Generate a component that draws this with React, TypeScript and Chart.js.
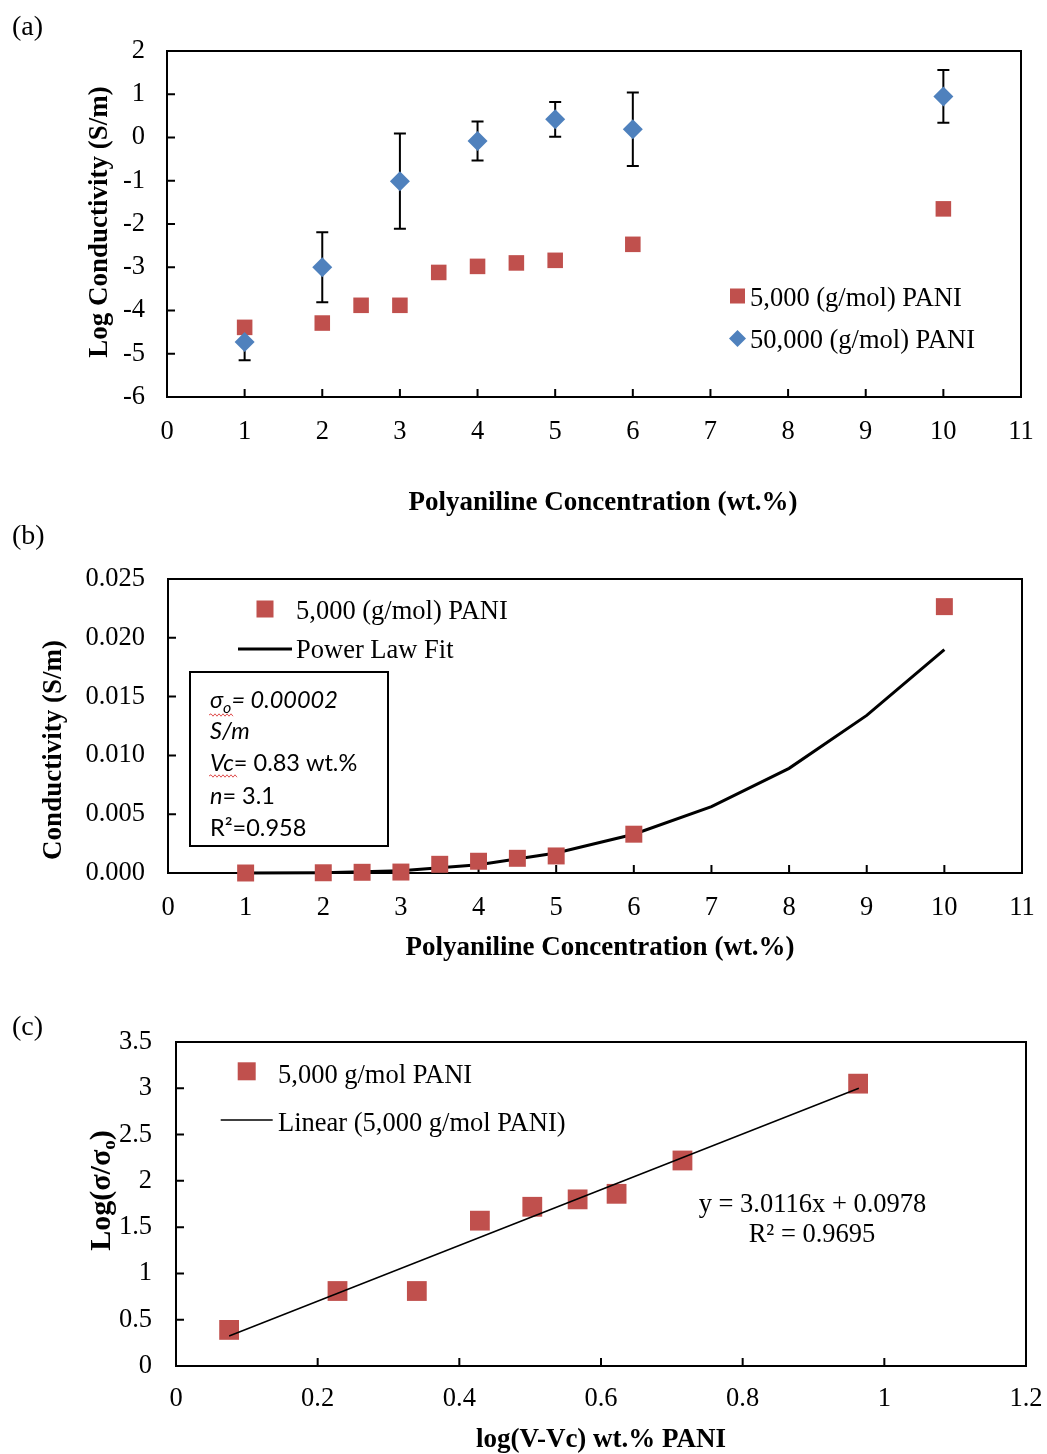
import React, { useEffect, useRef } from "react";
import { Chart, registerables } from "chart.js";
Chart.register(...registerables);

const SERIF = "'Liberation Serif', 'Times New Roman', Times, serif";
const SANS = "Lato, 'Liberation Sans', sans-serif";
const RED = "#C0504D";
const BLUE = "#4F81BD";

// ---------- Panel (a) data ----------
const aConc5k = [1, 2, 2.5, 3, 3.5, 4, 4.5, 5, 6, 10];
const aLog5k = [-4.39, -4.29, -3.88, -3.88, -3.12, -2.98, -2.9, -2.84, -2.47, -1.65];
const aConc50k = [1, 2, 3, 4, 5, 6, 10];
const aLog50k = [-4.73, -3.0, -1.01, -0.08, 0.42, 0.19, 0.95];
const aErr50k = [0.42, 0.81, 1.1, 0.45, 0.4, 0.85, 0.61];
const aLegend = ["5,000 (g/mol) PANI", "50,000 (g/mol) PANI"];
const aYTitle = "Log Conductivity (S/m)";
const concTitle = "Polyaniline Concentration (wt.%)";

// ---------- Panel (b) data ----------
const bConc = [1, 2, 2.5, 3, 3.5, 4, 4.5, 5, 6, 10];
const bCond = [0.0, 0.00002, 0.00006, 0.00008, 0.00074, 0.001, 0.00125, 0.00145, 0.0033, 0.02265];
const bFitConc = [1, 2, 3, 4, 5, 6, 7, 8, 9, 10];
const bFitCond = [0.0, 0.00003, 0.0002, 0.0007, 0.0017, 0.0033, 0.00565, 0.0089, 0.0134, 0.019];
const bLegend = ["5,000 (g/mol) PANI", "Power Law Fit"];
const bYTitle = "Conductivity (S/m)";

// ---------- Panel (c) data ----------
const cLogDV = [0.075, 0.228, 0.34, 0.429, 0.503, 0.567, 0.622, 0.715, 0.963];
const cLogRatio = [0.39, 0.81, 0.81, 1.57, 1.72, 1.8, 1.86, 2.22, 3.05];
const cFitX = [0.075, 0.964];
const cFitY = [0.324, 3.001];
const cLegend = ["5,000 g/mol PANI", "Linear (5,000 g/mol PANI)"];
const cEquation = ["y = 3.0116x + 0.0978", "R² = 0.9695"];
const cXTitle = "log(V-Vc) wt.% PANI";

const pts = (xs: number[], ys: number[]) => xs.map((x, i) => ({ x, y: ys[i] }));
const plainNum = (v: any) => String(parseFloat(Number(v).toFixed(3)));

function text(ctx: any, s: string, x: number, y: number, font: string, align: string = "left") {
  ctx.font = font;
  ctx.textAlign = align;
  ctx.textBaseline = "alphabetic";
  ctx.fillStyle = "#000";
  ctx.fillText(s, x, y);
}

type Run = { t: string; f: string; dy?: number };
function runs(ctx: any, list: Run[], x: number, y: number, center = false) {
  ctx.textBaseline = "alphabetic";
  ctx.textAlign = "left";
  ctx.fillStyle = "#000";
  let total = 0;
  for (const r of list) {
    ctx.font = r.f;
    total += ctx.measureText(r.t).width;
  }
  let cx = center ? x - total / 2 : x;
  for (const r of list) {
    ctx.font = r.f;
    ctx.fillText(r.t, cx, y + (r.dy || 0));
    cx += ctx.measureText(r.t).width;
  }
}

function vtitle(ctx: any, list: Run[], baseX: number, centerY: number) {
  ctx.save();
  ctx.translate(baseX, centerY);
  ctx.rotate(-Math.PI / 2);
  runs(ctx, list, 0, 0, true);
  ctx.restore();
}

function squiggle(ctx: any, x0: number, x1: number, y: number) {
  ctx.save();
  ctx.strokeStyle = "#e05050";
  ctx.lineWidth = 1;
  ctx.beginPath();
  let up = true;
  ctx.moveTo(x0, y);
  for (let x = x0 + 2; x <= x1; x += 2) {
    ctx.lineTo(x, up ? y - 1.2 : y + 1.2);
    up = !up;
  }
  ctx.stroke();
  ctx.restore();
}

const framePlugin = {
  id: "frameTicks",
  beforeDatasetsDraw(chart: any) {
    const { ctx, chartArea: a, scales } = chart;
    ctx.save();
    ctx.strokeStyle = "#000";
    ctx.lineWidth = 2;
    ctx.strokeRect(a.left, a.top, a.right - a.left, a.bottom - a.top);
    const L = 8;
    ctx.beginPath();
    scales.x.ticks.forEach((t: any) => {
      const px = scales.x.getPixelForValue(t.value);
      ctx.moveTo(px, a.bottom);
      ctx.lineTo(px, a.bottom - L);
    });
    scales.y.ticks.forEach((t: any) => {
      const py = scales.y.getPixelForValue(t.value);
      ctx.moveTo(a.left, py);
      ctx.lineTo(a.left + L, py);
    });
    ctx.stroke();
    ctx.restore();
  },
};

function baseOptions(o: any) {
  const tickFont = { family: SERIF, size: 26.5 };
  return {
    responsive: false,
    animation: false,
    devicePixelRatio: 1,
    events: [],
    layout: { padding: { left: 0, top: o.padTop, right: o.padRight, bottom: 0 } },
    plugins: { legend: { display: false }, tooltip: { enabled: false } },
    scales: {
      x: {
        type: "linear",
        min: o.x[0],
        max: o.x[1],
        afterFit: (s: any) => {
          s.height = o.xHeight;
          s.paddingLeft = 0;
          s.paddingRight = 0;
        },
        grid: { display: false, drawTicks: false },
        border: { display: false },
        ticks: {
          stepSize: o.x[2],
          autoSkip: false,
          maxRotation: 0,
          padding: o.x[3],
          color: "#000",
          font: tickFont,
          callback: plainNum,
        },
      },
      y: {
        type: "linear",
        min: o.y[0],
        max: o.y[1],
        afterFit: (s: any) => {
          s.width = o.yWidth;
          s.paddingTop = 0;
          s.paddingBottom = 0;
        },
        grid: { display: false, drawTicks: false },
        border: { display: false },
        ticks: {
          stepSize: o.y[2],
          autoSkip: false,
          padding: o.y[3],
          color: "#000",
          font: tickFont,
          callback: o.yCb || plainNum,
        },
      },
    },
  };
}

const BOLD = `bold 27px ${SERIF}`;
const REG = `26.5px ${SERIF}`;

function makeA() {
  const errPlugin = {
    id: "errBars",
    beforeDatasetsDraw(chart: any) {
      const { ctx, scales } = chart;
      ctx.save();
      ctx.strokeStyle = "#000";
      ctx.lineWidth = 2;
      ctx.beginPath();
      aConc50k.forEach((x, i) => {
        const px = scales.x.getPixelForValue(x);
        const t = scales.y.getPixelForValue(aLog50k[i] + aErr50k[i]);
        const b = scales.y.getPixelForValue(aLog50k[i] - aErr50k[i]);
        ctx.moveTo(px, t);
        ctx.lineTo(px, b);
        ctx.moveTo(px - 6, t);
        ctx.lineTo(px + 6, t);
        ctx.moveTo(px - 6, b);
        ctx.lineTo(px + 6, b);
      });
      ctx.stroke();
      ctx.restore();
    },
  };
  const annot = {
    id: "annotA",
    afterDraw(chart: any) {
      const ctx = chart.ctx;
      ctx.save();
      text(ctx, "(a)", 12, 35, `28px ${SERIF}`);
      vtitle(ctx, [{ t: aYTitle, f: BOLD }], 107, 222);
      text(ctx, concTitle, 603, 510, BOLD, "center");
      ctx.fillStyle = RED;
      ctx.fillRect(730, 288.5, 15, 15);
      ctx.fillStyle = BLUE;
      ctx.beginPath();
      ctx.moveTo(737.5 - 8.5, 338.5);
      ctx.lineTo(737.5, 330);
      ctx.lineTo(737.5 + 8.5, 338.5);
      ctx.lineTo(737.5, 347);
      ctx.closePath();
      ctx.fill();
      text(ctx, aLegend[0], 750, 306, REG);
      text(ctx, aLegend[1], 750, 348, REG);
      ctx.restore();
    },
  };
  return {
    type: "scatter",
    data: {
      datasets: [
        {
          label: aLegend[1],
          data: pts(aConc50k, aLog50k),
          pointStyle: "rectRot",
          pointRadius: 10,
          pointBorderWidth: 0,
          backgroundColor: BLUE,
          borderColor: BLUE,
          clip: false,
        },
        {
          label: aLegend[0],
          data: pts(aConc5k, aLog5k),
          pointStyle: "rect",
          pointRadius: 11,
          pointBorderWidth: 0,
          backgroundColor: RED,
          borderColor: RED,
          clip: false,
        },
      ],
    },
    options: baseOptions({
      padTop: 51,
      padRight: 26,
      yWidth: 167,
      xHeight: 123,
      x: [0, 11, 1, 19],
      y: [-6, 2, 1, 22],
    }),
    plugins: [framePlugin, errPlugin, annot],
  };
}

function makeB() {
  const it = `italic 23.5px ${SANS}`;
  const up = `23.5px ${SANS}`;
  const annot = {
    id: "annotB",
    afterDraw(chart: any) {
      const ctx = chart.ctx;
      ctx.save();
      text(ctx, "(b)", 12, 24, `28px ${SERIF}`);
      vtitle(ctx, [{ t: bYTitle, f: BOLD }], 61, 230);
      text(ctx, concTitle, 600, 435, BOLD, "center");
      // legend
      ctx.fillStyle = RED;
      ctx.fillRect(256.5, 80.5, 17, 17);
      text(ctx, bLegend[0], 296, 99, REG);
      ctx.strokeStyle = "#000";
      ctx.lineWidth = 3;
      ctx.beginPath();
      ctx.moveTo(238, 129);
      ctx.lineTo(292, 129);
      ctx.stroke();
      text(ctx, bLegend[1], 296, 138, REG);
      // text box
      ctx.fillStyle = "#fff";
      ctx.fillRect(190, 152, 198, 174);
      ctx.strokeStyle = "#000";
      ctx.lineWidth = 2;
      ctx.strokeRect(190, 152, 198, 174);
      runs(ctx, [
        { t: "σ", f: it },
        { t: "o", f: `italic 16px ${SANS}`, dy: 5 },
        { t: "= 0.00002", f: it },
      ], 210, 187.5);
      squiggle(ctx, 209, 234, 195);
      runs(ctx, [{ t: "S/m", f: it }], 210, 218.5);
      runs(ctx, [
        { t: "Vc", f: it },
        { t: "= 0.83 wt.%", f: up },
      ], 210, 250.5);
      squiggle(ctx, 209, 237, 256);
      runs(ctx, [
        { t: "n", f: it },
        { t: "= 3.1", f: up },
      ], 210, 283.5);
      runs(ctx, [{ t: "R²=0.958", f: up }], 210, 315.5);
      ctx.restore();
    },
  };
  return {
    type: "scatter",
    data: {
      datasets: [
        {
          label: bLegend[0],
          data: pts(bConc, bCond),
          pointStyle: "rect",
          pointRadius: 12,
          pointBorderWidth: 0,
          backgroundColor: RED,
          borderColor: RED,
          clip: false,
        },
        {
          label: bLegend[1],
          data: pts(bFitConc, bFitCond),
          showLine: true,
          pointRadius: 0,
          borderColor: "#000",
          borderWidth: 3,
          tension: 0,
          clip: false,
        },
      ],
    },
    options: baseOptions({
      padTop: 59,
      padRight: 25,
      yWidth: 168,
      xHeight: 107,
      x: [0, 11, 1, 19],
      y: [0, 0.025, 0.005, 23],
      yCb: (v: any) => Number(v).toFixed(3),
    }),
    plugins: [framePlugin, annot],
  };
}

function makeC() {
  const annot = {
    id: "annotC",
    afterDraw(chart: any) {
      const ctx = chart.ctx;
      ctx.save();
      text(ctx, "(c)", 12, 45, `28px ${SERIF}`);
      const yb = `bold 30px ${SERIF}`;
      vtitle(ctx, [
        { t: "Log(σ/σ", f: yb },
        { t: "o", f: `bold 19px ${SERIF}`, dy: 5 },
        { t: ")", f: yb },
      ], 110, 200.5);
      text(ctx, cXTitle, 601, 457, BOLD, "center");
      ctx.fillStyle = RED;
      ctx.fillRect(237.7, 72.3, 18, 18);
      text(ctx, cLegend[0], 278, 92.7, REG);
      ctx.strokeStyle = "#000";
      ctx.lineWidth = 1.5;
      ctx.beginPath();
      ctx.moveTo(220.7, 130);
      ctx.lineTo(272.7, 130);
      ctx.stroke();
      text(ctx, cLegend[1], 278, 140.7, REG);
      text(ctx, cEquation[0], 812.5, 221.7, REG, "center");
      text(ctx, cEquation[1], 812, 251.7, REG, "center");
      ctx.restore();
    },
  };
  return {
    type: "scatter",
    data: {
      datasets: [
        {
          label: cLegend[1],
          data: pts(cFitX, cFitY),
          showLine: true,
          pointRadius: 0,
          borderColor: "#000",
          borderWidth: 1.5,
          tension: 0,
          clip: false,
        },
        {
          label: cLegend[0],
          data: pts(cLogDV, cLogRatio),
          pointStyle: "rect",
          pointRadius: 14,
          pointBorderWidth: 0,
          backgroundColor: RED,
          borderColor: RED,
          clip: false,
        },
      ],
    },
    options: baseOptions({
      padTop: 52,
      padRight: 21,
      yWidth: 176,
      xHeight: 88,
      x: [0, 1.2, 0.2, 17],
      y: [0, 3.5, 0.5, 24],
    }),
    plugins: [framePlugin, annot],
  };
}

function Panel({ top, height, make }: { top: number; height: number; make: () => any }) {
  const ref = useRef<HTMLCanvasElement>(null);
  useEffect(() => {
    const chart = new Chart(ref.current as HTMLCanvasElement, make());
    return () => chart.destroy();
  }, []);
  return (
    <canvas
      ref={ref}
      width={1047}
      height={height}
      style={{ position: "absolute", left: 0, top, width: 1047, height, display: "block" }}
    />
  );
}

export default function App() {
  return (
    <div style={{ position: "absolute", left: 0, top: 0, width: 1047, height: 1454, background: "#fff" }}>
      <Panel top={0} height={520} make={makeA} />
      <Panel top={520} height={460} make={makeB} />
      <Panel top={990} height={464} make={makeC} />
    </div>
  );
}
